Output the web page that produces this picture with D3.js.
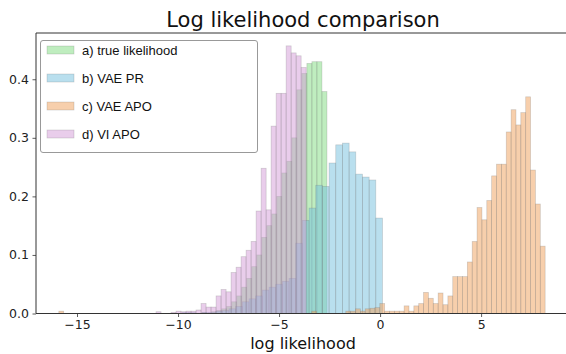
<!DOCTYPE html>
<html>
<head>
<meta charset="utf-8">
<script src="https://cdn.jsdelivr.net/npm/d3@7"></script>
<style>
  html, body { margin: 0; padding: 0; background: #fff; }
  svg { display: block; }
</style>
</head>
<body>
<figure style="margin:0"></figure>
<script>
// histogram densities, one array per method
const seriesNames = ["a) true likelihood", "b) VAE PR", "c) VAE APO", "d) VI APO"];
const seriesColors = ["#7fdc7f", "#74bfdd", "#f0a05a", "#d49bd8"];

const trueStart = -10.07, trueWidth = 0.248;
const trueDensity = [0, 0, 0, 0, 0, 0.002, 0, 0.003, 0.005, 0.008,
  0.012, 0.02, 0.03, 0.045, 0.06, 0.08, 0.1, 0.13, 0.15, 0.17,
  0.2, 0.24, 0.26, 0.3, 0.382, 0.41, 0.427, 0.43, 0.43, 0.379];

const vaePrStart = -9.79, vaePrWidth = 0.3303;
const vaePrDensity = [0.002, 0.002, 0, 0.002, 0.002, 0.004, 0.005, 0.008, 0.012, 0.02,
  0.025, 0.03, 0.04, 0.045, 0.05, 0.055, 0.06, 0.12, 0.159, 0.18,
  0.219, 0.217, 0.257, 0.288, 0.291, 0.276, 0.238, 0.233, 0.228, 0.163];

const vaeApoStart = -15.9, vaeApoWidth = 0.2407;
const vaeApoDensity = [0.004, 0, 0, 0, 0, 0, 0, 0, 0, 0,
  0, 0, 0, 0, 0, 0, 0, 0, 0, 0,
  0, 0, 0, 0, 0, 0, 0, 0, 0, 0,
  0, 0, 0, 0, 0, 0, 0, 0, 0, 0,
  0, 0, 0, 0, 0, 0, 0, 0, 0, 0,
  0, 0, 0.004, 0, 0, 0, 0, 0, 0, 0.004,
  0.004, 0.008, 0.004, 0.008, 0.009, 0.01, 0.017, 0.004, 0.004, 0.004,
  0.004, 0.013, 0.004, 0.013, 0.017, 0.036, 0.026, 0.017, 0.035, 0.015,
  0.03, 0.063, 0.063, 0.063, 0.088, 0.123, 0.181, 0.16, 0.193, 0.235,
  0.255, 0.255, 0.31, 0.348, 0.322, 0.343, 0.37, 0.245, 0.187, 0.115];

const viApoStart = -11.09, viApoWidth = 0.2477;
const viApoDensity = [0.003, 0, 0, 0.002, 0.004, 0.003, 0.004, 0.004, 0.006, 0.017,
  0.011, 0.011, 0.03, 0.041, 0.037, 0.07, 0.079, 0.097, 0.108, 0.123,
  0.175, 0.248, 0.177, 0.32, 0.376, 0.376, 0.457, 0.445, 0.44, 0.42];

const xTicks = [-15, -10, -5, 0, 5];
const yTicks = [0, 0.1, 0.2, 0.3, 0.4];

const width = 566, height = 354;
const margin = { top: 33, right: -4, bottom: 40.5, left: 36 };

const svg = d3.select("figure")
  .append("svg")
  .attr("width", width)
  .attr("height", height);

const x = d3.scaleLinear()
  .domain([-17.03, 9.4])
  .range([margin.left, width - margin.right]);

const y = d3.scaleLinear()
  .domain([0, 0.479])
  .range([height - margin.bottom, margin.top]);

// build bins from start / width / density
function toBins(start, w, dens) {
  return dens.map((d, i) => ({ x0: start + i * w, x1: start + (i + 1) * w, v: d }));
}
const series = [
  toBins(trueStart, trueWidth, trueDensity),
  toBins(vaePrStart, vaePrWidth, vaePrDensity),
  toBins(vaeApoStart, vaeApoWidth, vaeApoDensity),
  toBins(viApoStart, viApoWidth, viApoDensity)
];

// bars, drawn a -> d so later series sit on top
series.forEach((bins, k) => {
  svg.append("g")
    .selectAll("rect")
    .data(bins.filter(b => b.v > 0))
    .enter()
    .append("rect")
    .attr("x", d => x(d.x0))
    .attr("y", d => y(d.v))
    .attr("width", d => x(d.x1) - x(d.x0))
    .attr("height", d => y(0) - y(d.v))
    .attr("fill", seriesColors[k])
    .attr("fill-opacity", 0.5)
    .attr("stroke", "#707070")
    .attr("stroke-opacity", 0.3)
    .attr("stroke-width", 0.7);
});

// axes
const xAxis = svg.append("g")
  .attr("transform", "translate(0," + y(0) + ")")
  .call(d3.axisBottom(x).tickValues(xTicks).tickSize(3.5).tickPadding(3)
    .tickFormat(d => d < 0 ? "\u2212" + Math.abs(d) : d));

const yAxis = svg.append("g")
  .attr("transform", "translate(" + margin.left + ",0)")
  .call(d3.axisLeft(y).tickValues(yTicks).tickSize(3.5).tickPadding(3.5)
    .tickFormat(d3.format(".1f")));

[xAxis, yAxis].forEach(a => {
  a.select(".domain").remove();
  a.selectAll("line").attr("stroke", "#333").attr("stroke-width", 0.8);
  a.selectAll("text")
    .attr("fill", "#222")
    .style("font-family", "DejaVu Sans")
    .style("font-size", "12.5px");
});

// spines: left, top, bottom (right one falls outside the window)
svg.append("path")
  .attr("d", "M" + x.range()[1] + "," + margin.top + "H" + margin.left + "V" + y(0) + "H" + x.range()[1])
  .attr("fill", "none")
  .attr("stroke", "#333")
  .attr("stroke-width", 1);

// title and x label
svg.append("text")
  .attr("x", (margin.left + x.range()[1]) / 2)
  .attr("y", 27)
  .attr("text-anchor", "middle")
  .style("font-family", "DejaVu Sans")
  .style("font-size", "21px")
  .attr("fill", "#111")
  .text("Log likelihood comparison");

svg.append("text")
  .attr("x", (margin.left + x.range()[1]) / 2)
  .attr("y", 349)
  .attr("text-anchor", "middle")
  .style("font-family", "DejaVu Sans")
  .style("font-size", "16px")
  .attr("fill", "#111")
  .text("log likelihood");

// legend
const legend = svg.append("g");
legend.append("rect")
  .attr("x", 40.5)
  .attr("y", 40.5)
  .attr("width", 217)
  .attr("height", 112)
  .attr("rx", 2.5)
  .attr("fill", "#fff")
  .attr("fill-opacity", 0.85)
  .attr("stroke", "#999")
  .attr("stroke-width", 1);

seriesNames.forEach((name, k) => {
  const cy = 50 + k * 28;
  legend.append("rect")
    .attr("x", 47)
    .attr("y", cy - 4)
    .attr("width", 27)
    .attr("height", 8)
    .attr("fill", seriesColors[k])
    .attr("fill-opacity", 0.5)
    .attr("stroke", "#707070")
    .attr("stroke-opacity", 0.3)
    .attr("stroke-width", 0.7);
  legend.append("text")
    .attr("x", 82)
    .attr("y", cy + 4.5)
    .style("font-family", "Liberation Sans")
    .style("font-size", "13px")
    .attr("fill", "#111")
    .text(name);
});
</script>
</body>
</html>
